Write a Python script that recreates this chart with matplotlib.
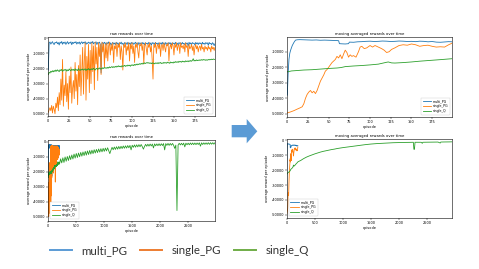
import numpy as np
import matplotlib
matplotlib.use("Agg")
import matplotlib.pyplot as plt
from matplotlib.lines import Line2D
from matplotlib.patches import Polygon
from matplotlib.ticker import MultipleLocator

plt.rcParams['axes.unicode_minus'] = False
plt.rcParams['font.family'] = ['DejaVu Sans']

# ---------------- data (values in thousands) ----------------
series_names = ["multi_PG", "single_PG", "single_Q"]

raw_multi_pg_k = [
    -21.0,
    -3.1, -2.4, -3.8, -2.9, -2.2, -3.5, -4.1, -2.7, -3.0, -2.3,
    -3.6, -2.8, -4.4, -2.5, -3.2, -2.1, -3.9, -2.6, -3.3, -2.4,
    -4.0, -2.9, -2.2, -3.7, -2.8, -3.1, -2.3, -4.2, -2.6, -3.4,
    -2.5, -3.0, -2.2, -3.8, -2.7, -3.3, -2.4, -3.9, -2.8, -2.3,
    -3.5, -2.6, -3.1, -2.2, -4.0, -2.9, -3.4, -2.5, -2.9, -3.6,
    -2.4, -3.2, -2.1, -3.7, -2.8, -3.0, -2.3, -4.1, -2.7, -3.3,
    -2.5, -3.8,
    -23.0,
    -3.4, -2.7, -3.9, -2.6, -3.2, -4.5, -2.8, -3.5, -2.4, -3.9,
    -3.0, -4.6, -3.3, -2.7, -3.8, -3.1, -4.2, -2.6, -3.6, -3.0,
    -4.4, -2.9, -3.5, -2.5, -3.9, -3.2, -4.7, -2.8, -3.4, -3.0,
    -4.1, -2.6, -3.7, -3.1, -4.3, -2.7, -3.5, -2.9, -4.0, -3.3,
    -2.6, -3.8, -3.0, -4.5, -2.8, -3.4, -3.1, -4.2, -2.7, -3.6,
    -3.0, -4.4, -2.9, -3.5, -3.2, -4.0, -2.6, -3.7, -3.1, -4.6,
    -2.8, -3.4, -3.0, -4.1, -2.7, -3.6, -3.2, -4.3, -2.9, -3.5,
    -3.1, -4.0, -2.6, -3.8, -3.0, -4.5, -2.8, -3.4, -3.2, -4.2,
    -2.7, -3.6, -3.0, -4.4, -2.9, -3.5, -3.1, -4.1, -2.6, -3.7,
    -3.2, -4.6, -2.8, -3.4, -3.0, -4.0, -2.7, -3.6, -3.3, -4.3,
    -2.9, -3.5, -3.1, -5.2, -2.6, -3.8, -3.0, -4.2, -2.8, -3.4,
    -3.2, -4.5, -2.7, -3.6, -3.0, -4.1, -2.9, -3.5, -3.1, -4.4,
    -2.6, -3.7, -3.2, -4.0, -2.8, -3.4, -3.0, -4.6, -2.7, -3.6,
    -3.3, -4.2, -2.9, -3.5, -4.8, -3.6,
]

raw_single_pg_k = [
    -49, -47.5, -46, -48, -44.5, -49.5, -45, -47, -50, -43,
    -46, -39, -48, -36, -44, -27, -41, -14, -45, -31,
    -38, -22, -42, -30, -47, -25, -36, -19, -43, -33,
    -28, -40, -16, -35, -24, -44, -18, -32, -11, -38,
    -21, -6, -37, -15, -3, -41, -12, -27, -4, -36,
    -8, -30, -3, -22, -5, -34, -2.5, -17, -6, -28,
    -3, -12, -4, -24, -2.5, -9, -3.5, -19, -4, -13,
    -3, -15, -5, -2.5, -11, -4, -8, -3, -16, -5,
    -7, -3, -12, -4, -6, -3, -14, -5, -9, -21,
    -4, -6, -3, -11, -5, -8, -3, -15, -4, -7,
    -3, -10, -5, -16, -4, -6, -3, -9, -13, -4,
    -5, -3, -8, -4, -17, -5, -3, -7, -11, -4,
    -6, -3, -9, -5, -14, -27, -4, -6, -3, -10,
    -5, -4, -7, -3, -12, -5, -4, -8, -3, -6,
    -9, -4, -5, -3, -15, -6, -4, -7, -3, -5,
    -11, -4, -6, -3, -8, -5, -4, -10, -3, -6,
    -5, -7, -4, -9, -3, -6, -5, -12, -4, -7,
    -6, -4, -8, -5, -11, -6, -4, -7, -5, -9,
    -6, -5, -8, -4, -7, -6, -9, -5, -7, -6,
    -8, -5, -7, -6, -9, -5, -7, -6, -8, -6,
]

raw_single_q_k = [
    -24, -22.5, -23, -21.8, -22.4, -21.5, -22.2, -21.3, -22, -21,
    -21.8, -20.9, -21.5, -22.1, -20.8, -21.4, -20.6, -21.9, -21.2, -20.7,
    -21.3, -20.5, -21.8, -20.9, -21.4, -20.3, -21, -21.6, -20.4, -21.1,
    -20.6, -21.5, -20.2, -21.2, -20.7, -21.4, -20.1, -20.9, -21.3, -20.5,
    -21, -20.3, -21.1, -20.6, -20.2, -21.4, -20.5, -20.8, -20, -21,
    -20.4, -20.9, -20.1, -20.7, -19.8, -20.5, -21, -20.2, -19.9, -20.6,
    -20.1, -19.6, -20.4, -19.9, -20.3, -19.5, -20, -19.3, -19.8, -19.4,
    -19.9, -19.2, -19.7, -18.9, -19.5, -19.1, -18.7, -19.4, -18.8, -19.2,
    -18.6, -19.1, -18.4, -18.9, -18.2, -18.8, -18.5, -19, -18.1, -18.7,
    -18.3, -17.9, -18.6, -18, -18.4, -17.7, -18.2, -17.8, -18.5, -17.6,
    -18, -17.5, -18.1, -17.3, -17.8, -17.1, -17.6, -17, -17.4, -16.8,
    -17.2, -16.6, -17.1, -16.4, -16.9, -16.2, -16.7, -16.3, -16, -16.5,
    -16.1, -16.6, -16.3, -16.8, -16.2, -16.7, -16.4, -16.9, -16.3, -16.6,
    -16.2, -16.8, -16.1, -16.5, -16, -16.7, -16.3, -16.6, -15.9, -16.4,
    -16.1, -16.5, -15.8, -16.3, -16, -16.6, -15.7, -16.2, -15.9, -16.4,
    -15.6, -16.1, -15.4, -15.9, -15.5, -16, -15.2, -15.7, -15.3, -15.8,
    -15.1, -15.6, -15.2, -15.7, -14.9, -15.4, -15, -15.5, -14.8, -15.3,
    -14.7, -15.2, -14.6, -13.5, -15, -14.5, -14.9, -14.3, -14.8, -14.4,
    -14.7, -14.2, -14.6, -14.1, -14.5, -14, -14.4, -14.1, -14.6, -14.2,
    -14.5, -14, -14.3, -13.9, -14.2, -13.8, -14.1, -13.7, -14, -13.9,
]

# single_Q raw after episode 200, one value every 20 episodes
long_start_ep = 200
long_step_ep = 20
raw_single_q_long_k = [
    -15.0, -11.5, -14.2, -10.8, -13.9, -10.2, -13.1, -9.9, -12.6, -9.4,
    -12.0, -8.9, -11.6, -8.3, -11.0, -7.9, -10.6, -7.6, -10.1, -7.2,
    -9.7, -6.9, -9.3, -6.5, -9.0, -6.2, -8.6, -5.9, -8.3, -5.7,
    -8.0, -5.4, -7.6, -5.2, -7.3, -4.9, -7.0, -4.7, -6.8, -4.5,
    -6.5, -4.3, -6.2, -4.1, -6.0, -8.0, -5.7, -3.8, -5.4, -3.6,
    -5.2, -3.4, -5.0, -3.2, -4.8, -3.1, -4.6, -2.9, -4.4, -2.8,
    -4.3, -2.6, -4.1, -2.5, -5.5, -2.4, -3.8, -2.2, -3.7, -2.1,
    -3.5, -2.0, -3.4, -1.9, -3.3, -5.0, -3.2, -1.8, -3.1, -1.7,
    -3.0, -1.6, -2.9, -1.6, -4.2, -1.5, -2.8, -1.5, -2.7, -1.4,
    -2.7, -1.4, -2.6, -1.3, -5.5, -1.3, -2.5, -1.2, -2.5, -1.2,
    -2.4, -1.2, -2.4, -4.5, -2.3, -46.0, -2.3, -1.1, -2.2, -1.1,
    -2.2, -1.0, -3.5, -1.0, -2.1, -1.0, -2.1, -0.9, -2.0, -0.9,
    -2.0, -0.9, -2.0, -0.9, -1.9, -0.8, -3.0, -0.8, -1.9, -0.8,
    -1.8, -0.8, -1.8, -0.7, -1.8, -0.7, -1.7, -0.7, -1.7, -0.7,
]

# moving averages
ma_multi_ep = [0, 1, 2, 3, 4, 5, 6, 7, 8, 9, 10, 12, 15, 20, 25, 30, 35, 40, 45, 50,
               55, 60, 62, 63, 66, 70, 72, 74, 75, 80, 85, 90, 95, 100, 105, 110,
               115, 120, 125, 130, 135, 140, 145, 150, 155, 160, 165, 170, 175,
               180, 185, 190, 195, 199]
ma_multi_k = [-38, -24, -15, -11, -9, -7.5, -6, -5, -4, -3.2, -2.5, -2.3, -2.2,
              -2.3, -2.4, -2.5, -2.4, -2.6, -2.5, -2.6, -2.7, -2.8, -2.9, -4.8,
              -4.9, -5.0, -4.9, -4.8, -3.8, -3.9, -3.6, -3.5, -3.3, -3.2, -3.4,
              -3.3, -3.1, -3.2, -3.4, -3.3, -3.1, -3.2, -3.4, -3.3, -3.5, -3.2,
              -3.3, -3.6, -3.4, -3.8, -3.9, -3.7, -3.5, -3.6]

ma_single_pg_ep = [0, 4, 8, 12, 15, 18, 20, 22, 24, 26, 28, 30, 32, 34, 36, 38, 40,
                   42, 44, 46, 48, 50, 52, 54, 56, 58, 60, 62, 64, 66, 68, 70, 72,
                   74, 76, 78, 80, 83, 86, 88, 90, 93, 96, 100, 103, 106, 110, 114,
                   117, 120, 123, 126, 130, 135, 140, 145, 150, 155, 160, 165, 170,
                   175, 180, 185, 190, 195, 199]
ma_single_pg_k = [-49.5, -48.8, -48, -47, -46.3, -45.5, -43.5, -40, -37.5, -36,
                  -35, -36.5, -35.5, -37, -35, -32, -29, -27, -25, -22.5, -21.5,
                  -20, -18.5, -17, -16, -15, -13, -14, -12, -14.5, -11.5, -9,
                  -10.5, -13.5, -12, -13, -12.5, -13.5, -10, -7, -6.5, -8, -7.5,
                  -6, -7, -6, -7, -8, -9, -10.5, -10, -8.5, -7.5, -6, -5.5, -5.8,
                  -5, -5.5, -6.5, -6, -5.8, -6.5, -7, -6.8, -7, -5.5, -4.5]

ma_single_q_ep = [0, 5, 10, 20, 30, 40, 50, 60, 65, 70, 75, 80, 90, 100, 110, 115,
                  120, 122, 126, 130, 140, 150, 160, 170, 175, 185, 199]
ma_single_q_k = [-23, -22.4, -22.2, -21.8, -21.6, -21.2, -20.8, -20.5, -20.2,
                 -19.6, -19.4, -19.2, -18.9, -18.5, -18, -17.4, -16.8, -16.6,
                 -17.2, -17.3, -17, -16.6, -16.1, -15.7, -15.5, -15.1, -14.5]

ma_single_q_long_ep = [200, 250, 300, 350, 400, 450, 500, 550, 600, 650, 700, 750,
                       800, 850, 900, 950, 1000, 1100, 1200, 1300, 1400, 1500, 1600,
                       1700, 1800, 1900, 2000, 2100, 2200, 2260, 2270, 2280, 2290,
                       2400, 2420, 2430, 2500, 2600, 2700, 2740, 2750, 2800, 2900,
                       2950]
ma_single_q_long_k = [-14.4, -13.5, -12.3, -11.3, -10.5, -9.8, -9.1, -8.5, -7.9,
                      -7.4, -7.0, -6.6, -6.2, -5.9, -5.5, -5.2, -4.9, -4.4, -3.9,
                      -3.4, -2.9, -2.5, -2.2, -2.0, -1.8, -1.6, -1.5, -1.4, -1.35,
                      -1.3, -6.0, -6.0, -1.3, -1.3, -2.0, -1.3, -1.25, -1.2, -1.15,
                      -1.8, -1.15, -1.1, -1.05, -1.0]

legend_colors = ["#5B9BD5", "#ED7D31", "#70AD47"]

# ---------------- helpers ----------------
K = 1000.0
def arr(v):
    return np.asarray(v, dtype=float) * K

ep_raw = np.arange(len(raw_single_pg_k))
ep_long = long_start_ep + long_step_ep * np.arange(len(raw_single_q_long_k))
q_full_x = np.concatenate([np.arange(len(raw_single_q_k)), ep_long])
q_full_y = np.concatenate([arr(raw_single_q_k), arr(raw_single_q_long_k)])
qma_full_x = np.concatenate([ma_single_q_ep, ma_single_q_long_ep])
qma_full_y = np.concatenate([arr(ma_single_q_k), arr(ma_single_q_long_k)])

W, H = 479, 269
fig = plt.figure(figsize=(W / 100, H / 100), dpi=100)
fig.patch.set_facecolor("white")

def ax_at(x0, y0, x1, y1):
    return fig.add_axes([x0 / W, 1 - y1 / H, (x1 - x0) / W, (y1 - y0) / H])

LW = 0.6

def style(ax, title, xlim, ylim, xstep, legloc):
    ax.set_title(title, fontsize=2.7, pad=1.6)
    ax.set_xlabel("episode", fontsize=2.5, labelpad=0.8)
    ax.set_ylabel("average reward per episode", fontsize=2.4, labelpad=1.5)
    ax.set_xlim(*xlim)
    ax.set_ylim(*ylim)
    ax.xaxis.set_major_locator(MultipleLocator(xstep))
    ax.yaxis.set_major_locator(MultipleLocator(10000))
    ax.tick_params(labelsize=2.5, length=1.2, width=0.3, pad=0.8)
    for s in ax.spines.values():
        s.set_linewidth(0.4)
    leg = ax.legend(loc=legloc, fontsize=2.3, handlelength=2.6, borderpad=0.5,
                    labelspacing=0.35, handletextpad=0.6, framealpha=1,
                    edgecolor="#cccccc", borderaxespad=0.6)
    leg.get_frame().set_linewidth(0.3)

# top-left raw
ax1 = ax_at(48.3, 37, 215, 116)
ax1.plot(np.arange(len(raw_multi_pg_k)), arr(raw_multi_pg_k), color="C0", lw=LW, label=series_names[0])
ax1.plot(ep_raw, arr(raw_single_pg_k), color="C1", lw=LW, label=series_names[1])
ax1.plot(np.arange(len(raw_single_q_k)), arr(raw_single_q_k), color="C2", lw=LW, label=series_names[2])
style(ax1, "raw rewards over time", (0, 199), (-51500, 900), 25, "lower right")

# bottom-left raw, long
ax2 = ax_at(48.3, 140, 215, 221)
ax2.plot(np.arange(len(raw_multi_pg_k)), arr(raw_multi_pg_k), color="C0", lw=LW, label=series_names[0])
ax2.plot(ep_raw, arr(raw_single_pg_k), color="C1", lw=LW, label=series_names[1])
ax2.plot(q_full_x, q_full_y, color="C2", lw=LW, label=series_names[2])
style(ax2, "raw rewards over time", (0, 2980), (-53000, 1100), 500, "lower left")

# top-right moving averaged
ax3 = ax_at(287.3, 37, 452, 117)
ax3.plot(ma_multi_ep, arr(ma_multi_k), color="C0", lw=LW, label=series_names[0])
ax3.plot(ma_single_pg_ep, arr(ma_single_pg_k), color="C1", lw=LW, label=series_names[1])
ax3.plot(ma_single_q_ep, arr(ma_single_q_k), color="C2", lw=LW, label=series_names[2])
style(ax3, "moving averaged rewards over time", (0, 199), (-52100, -500), 25, "lower right")

# bottom-right moving averaged, long
ax4 = ax_at(286.7, 139, 452, 218)
ax4.plot(ma_multi_ep, arr(ma_multi_k), color="C0", lw=LW, label=series_names[0])
ax4.plot(ma_single_pg_ep, arr(ma_single_pg_k), color="C1", lw=LW, label=series_names[1])
ax4.plot(qma_full_x, qma_full_y, color="C2", lw=LW, label=series_names[2])
style(ax4, "moving averaged rewards over time", (0, 2950), (-52100, 900), 500, "lower left")

# arrow between panels (pixel coordinates -> figure fraction)
arrow_px = [(231.7, 125), (246.7, 125), (246.7, 119), (257.3, 131.3),
            (246.7, 143.3), (246.7, 137.3), (231.7, 137.3)]
fig.add_artist(Polygon([(x / W, 1 - y / H) for x, y in arrow_px], closed=True,
                       transform=fig.transFigure, facecolor="#5B9BD5",
                       edgecolor="none"))

# slide legend at bottom
handles = [Line2D([], [], color=c, lw=1.4) for c in legend_colors]
fig.legend(handles, series_names, loc="center", bbox_to_anchor=(179.5 / W, 1 - 251 / H),
           ncol=3, frameon=False, prop={"family": ["Lato", "DejaVu Sans"], "size": 8.3},
           handlelength=1.9, handletextpad=0.85, columnspacing=1.1, borderpad=0,
           labelcolor="#333333")

fig.savefig("out.png", dpi=100, facecolor="white")
